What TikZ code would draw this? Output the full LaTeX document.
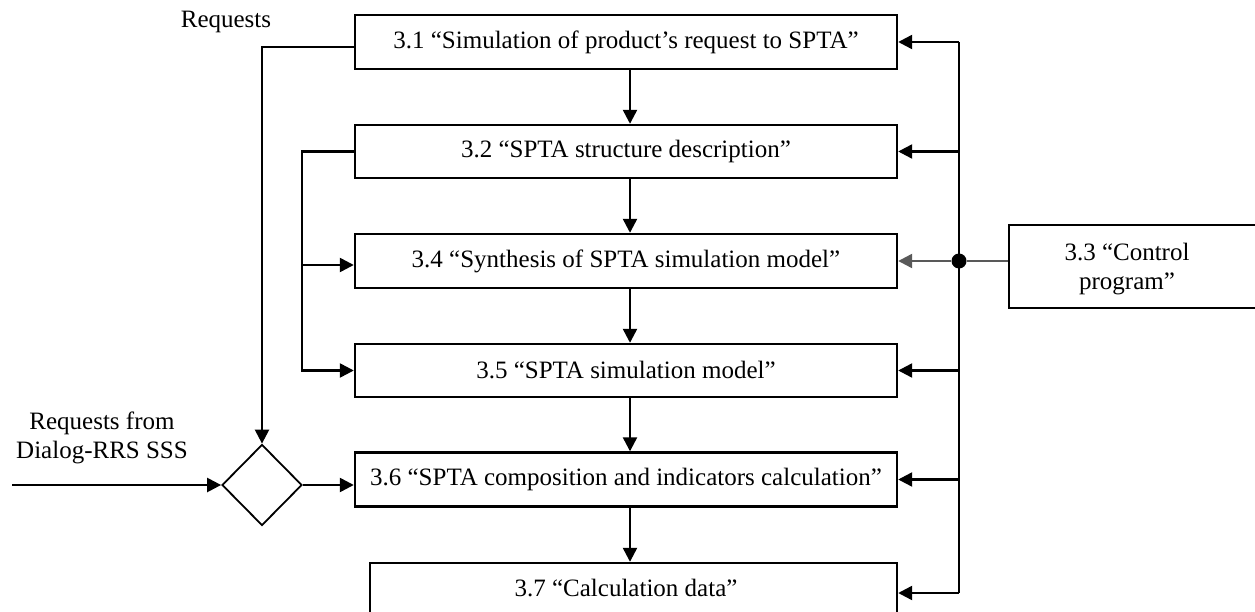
\documentclass[tikz,border=0pt]{standalone}
\usepackage{fontspec}
\setmainfont{Liberation Serif}
\usetikzlibrary{arrows.meta,shapes.geometric,calc}

\tikzset{
  stagebox/.style={draw, line width=2.4pt, minimum width=542pt, minimum height=54pt,
    inner sep=0pt, font=\fontsize{25}{29}\selectfont},
  arr/.style={line width=2.4pt, -{Triangle[length=14pt,width=14pt]}},
  wire/.style={line width=2.4pt},
  greywire/.style={line width=2.4pt, draw=black!65},
  lbl/.style={font=\fontsize{25}{29}\selectfont, align=center, inner sep=0pt},
}

\begin{document}
\begin{tikzpicture}[x=1pt,y=-1pt]
\useasboundingbox (0,0) rectangle (1255,612);
\clip (0,0) rectangle (1255,612);

% process stages
\node[stagebox] (b31) at (626,42)    {3.1 “Simulation of product’s request to SPTA”};
\node[stagebox, minimum height=53pt] (b32) at (626,151.5) {3.2 “SPTA structure description”};
\node[stagebox] (b34) at (626,261)   {3.4 “Synthesis of SPTA simulation model”};
\node[stagebox, minimum height=53pt] (b35) at (626,370.5) {3.5 “SPTA simulation model”};
\node[stagebox] (b36) at (626,479.5) {3.6 “SPTA composition and indicators calculation”};
\node[stagebox, minimum width=527pt, minimum height=60pt] (b37) at (633.5,593) {};
\node[lbl] (t37) at (626,588) {3.7 “Calculation data”};

% control program block
\node[draw, line width=2.4pt, minimum width=262pt, minimum height=83pt, anchor=west, inner sep=0pt] (b33) at (1008,266.5) {};
\node[lbl] (t33) at (1127,269) {3.3 “Control\\program”};

% merge diamond
\node[diamond, draw, line width=1.8pt, minimum width=80pt, minimum height=81pt, inner sep=0pt] (dia) at (262,485) {};

% free labels
\node[lbl] (req) at (226,22) {Requests};
\node[lbl] (reqd) at (102,438) {Requests from\\Dialog-RRS SSS};

% helper columns
\coordinate (mid) at (630,0);
\coordinate (bus) at (959,0);
\coordinate (lb) at (302,0);
\coordinate (inp) at (12,485);

% main flow downward
\draw[arr] (mid |- b31.south) -- (mid |- b32.north);
\draw[arr] (mid |- b32.south) -- (mid |- b34.north);
\draw[arr] (mid |- b34.south) -- (mid |- b35.north);
\draw[arr] (mid |- b35.south) -- (mid |- b36.north);
\draw[arr] (mid |- b36.south) -- (mid |- b37.north);

% control bus on the right
\draw[wire] (bus |- b31.east) -- (bus |- b37.east);
\foreach \b in {b31,b32,b35,b36,b37}
  \draw[arr] (bus |- \b.east) -- (\b.east);
\node[circle, fill, inner sep=0pt, minimum size=15pt] (dot) at (bus |- b34.east) {};
\draw[greywire] (dot -| b33.west) -- (dot);
\draw[arr, draw=black!65] (dot) -- (b34.east);

% requests loop on the left
\draw[arr] ($(b31.west)+(0,5)$) -| (dia.north);
\draw[arr] (b32.west) -- (lb |- b32.west) |- (b35.west);
\coordinate (in34) at ($(b34.west)+(0,4)$);
\draw[arr] (lb |- in34) -- (in34);

% external requests into the merge
\draw[arr] (inp) -- (dia.west);
\draw[arr] (dia.east) -- (dia.east -| b36.west);
\end{tikzpicture}
\end{document}
